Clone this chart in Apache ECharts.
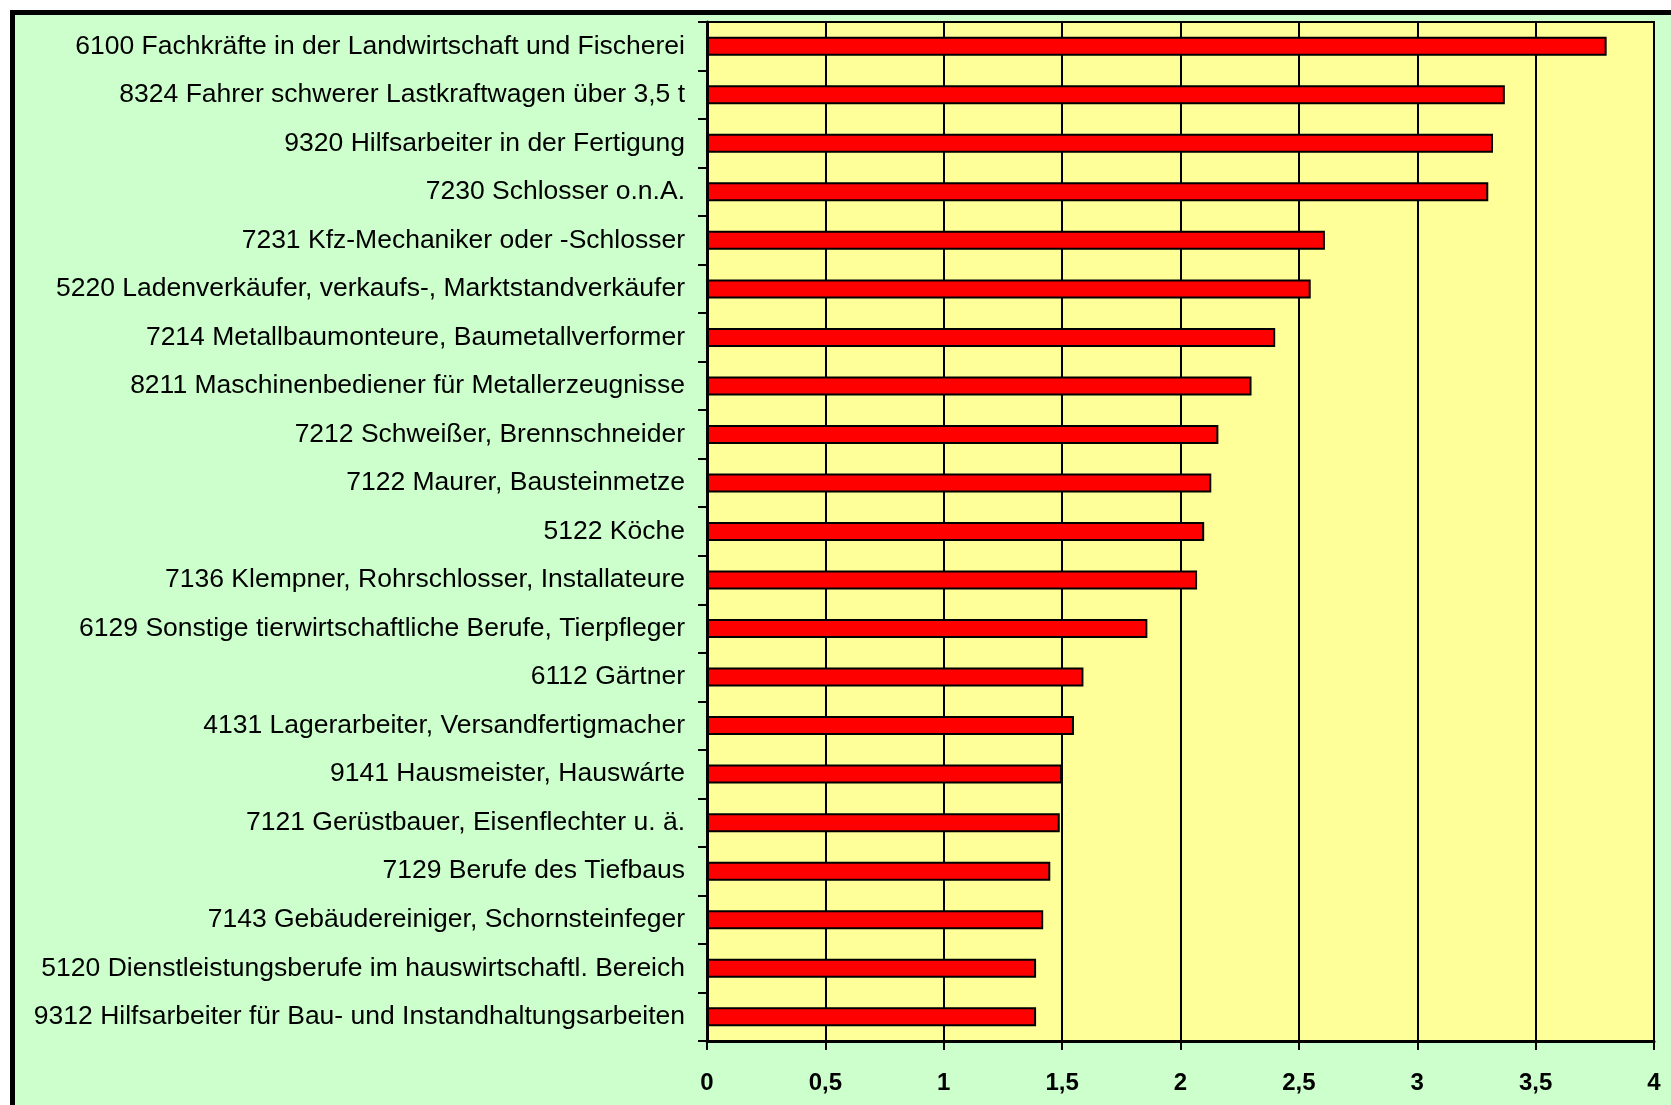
<!DOCTYPE html>
<html>
<head>
<meta charset="utf-8">
<script src="https://cdn.jsdelivr.net/npm/echarts@6/dist/echarts.min.js"></script>
<style>
  html, body { margin: 0; padding: 0; background: #fff; }
  #frame {
    position: absolute; left: 10px; top: 10px; width: 1661px; height: 1095px;
    box-sizing: border-box; border-left: 5px solid #000; border-top: 5px solid #000;
    background: #CCFFCC;
  }
  #bar { position: absolute; left: 0; top: 0; width: 1671px; height: 1105px; }
</style>
</head>
<body>
<div id="frame"></div>
<div id="bar"></div>
<script>
// Berufe (von oben nach unten)
const berufe = [
  '6100 Fachkräfte in der Landwirtschaft und Fischerei',
  '8324 Fahrer schwerer Lastkraftwagen über 3,5 t',
  '9320 Hilfsarbeiter in der Fertigung',
  '7230 Schlosser o.n.A.',
  '7231 Kfz-Mechaniker oder -Schlosser',
  '5220 Ladenverkäufer, verkaufs-, Marktstandverkäufer',
  '7214 Metallbaumonteure, Baumetallverformer',
  '8211 Maschinenbediener für Metallerzeugnisse',
  '7212 Schweißer, Brennschneider',
  '7122 Maurer, Bausteinmetze',
  '5122 Köche',
  '7136 Klempner, Rohrschlosser, Installateure',
  '6129 Sonstige tierwirtschaftliche Berufe, Tierpfleger',
  '6112 Gärtner',
  '4131 Lagerarbeiter, Versandfertigmacher',
  '9141 Hausmeister, Hauswárte',
  '7121 Gerüstbauer, Eisenflechter u. ä.',
  '7129 Berufe des Tiefbaus',
  '7143 Gebäudereiniger, Schornsteinfeger',
  '5120 Dienstleistungsberufe im hauswirtschaftl. Bereich',
  '9312 Hilfsarbeiter für Bau- und Instandhaltungsarbeiten'
]
const werte = [3.80, 3.37, 3.32, 3.30, 2.61, 2.55, 2.40, 2.30, 2.16, 2.13, 2.10, 2.07,
  1.86, 1.59, 1.55, 1.50, 1.49, 1.45, 1.42, 1.39, 1.39]
// x-Achse
const xMin = 0
const xMax = 4
const xStep = 0.5

const myChart = echarts.init(document.getElementById('bar'))

const option = {
  animation: false,
  grid: {
    left: 707, top: 22, right: 17, bottom: 64,
    show: true,
    backgroundColor: '#FFFF99',
    borderColor: '#000',
    borderWidth: 2
  },
  xAxis: {
    type: 'value',
    min: xMin, max: xMax, interval: xStep,
    axisLine: { show: true, lineStyle: { color: '#000', width: 3 } },
    axisTick: { show: true, length: 9, lineStyle: { color: '#000', width: 2 } },
    splitLine: { show: true, lineStyle: { color: '#000', width: 2 } },
    axisLabel: {
      margin: 30,
      color: '#000',
      fontFamily: 'Liberation Sans, Arial, sans-serif',
      fontWeight: 'bold',
      fontSize: 24,
      formatter: v => String(v).replace('.', ',')
    }
  },
  yAxis: {
    type: 'category',
    inverse: true,
    data: berufe,
    axisLine: { show: true, lineStyle: { color: '#000', width: 3 } },
    axisTick: { show: true, length: 9, interval: 0, lineStyle: { color: '#000', width: 2 } },
    axisLabel: {
      interval: 0,
      margin: 22,
      color: '#000',
      fontFamily: 'Liberation Sans, Arial, sans-serif',
      fontSize: 26.5,
      padding: [3, 0, 0, 0]
    }
  },
  series: [
    {
      type: 'bar',
      data: werte,
      barWidth: 19,
      itemStyle: { color: '#FF0000', borderColor: '#000', borderWidth: 2 }
    }
  ]
}
myChart.setOption(option)
</script>
</body>
</html>
